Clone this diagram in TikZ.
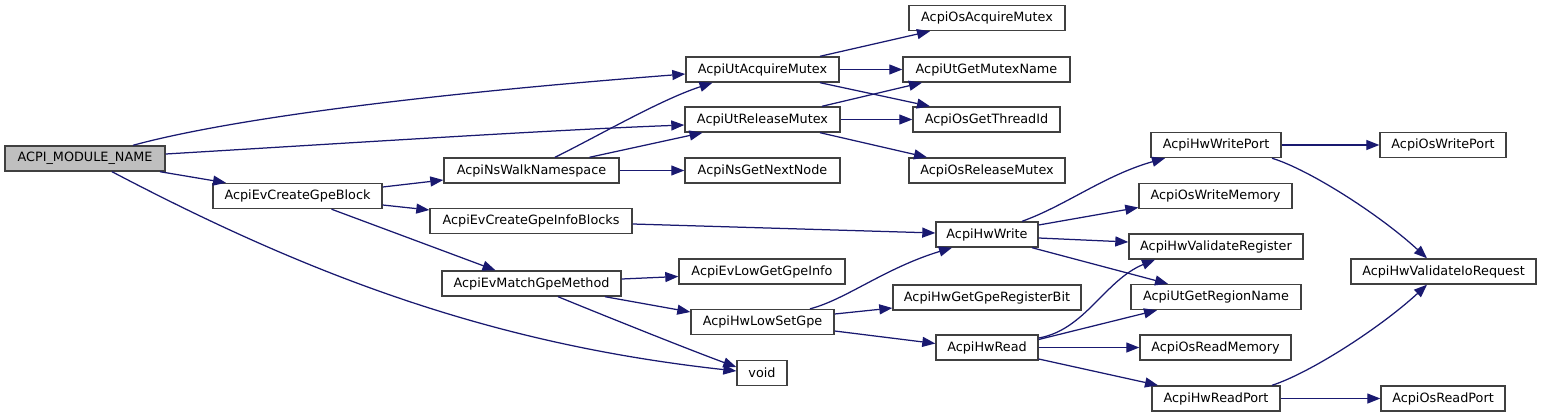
\documentclass[tikz,border=0pt]{standalone}
\usepackage{fontspec}
\setmainfont{DejaVu Sans}
\usetikzlibrary{arrows.meta,calc}
\definecolor{edgec}{HTML}{191970}
\definecolor{rootfill}{HTML}{BFBFBF}
\definecolor{boxline}{HTML}{404040}
\begin{document}
\begin{tikzpicture}[x=1pt,y=-1pt,
  box/.style={draw=boxline,line width=1.4pt,fill=white,rectangle,inner sep=0pt,
    minimum height=25pt,align=center,font=\fontsize{12.8}{14}\selectfont},
  rootbox/.style={box,fill=rootfill},
  arr/.style={draw=edgec,line width=1.25pt,-{Triangle[length=13pt,width=10pt]},color=edgec}]
\useasboundingbox (0,0) rectangle (1541,417);
% nodes
\node[rootbox,minimum width=160pt] (m) at (85,158.5) {ACPI\_MODULE\_NAME};
\node[box,minimum width=169pt] (cb) at (297.5,196) {AcpiEvCreateGpeBlock};
\node[box,minimum width=175pt] (nw) at (531.5,170.5) {AcpiNsWalkNamespace};
\node[box,minimum width=202pt] (ib) at (531,221) {AcpiEvCreateGpeInfoBlocks};
\node[box,minimum width=179pt] (mg) at (531.5,283.5) {AcpiEvMatchGpeMethod};
\node[box,minimum width=153pt] (ua) at (762.5,69.5) {AcpiUtAcquireMutex};
\node[box,minimum width=155pt] (ur) at (762.5,119.5) {AcpiUtReleaseMutex};
\node[box,minimum width=155pt] (gn) at (762.5,170.5) {AcpiNsGetNextNode};
\node[box,minimum width=166pt] (lg) at (762,271.5) {AcpiEvLowGetGpeInfo};
\node[box,minimum width=143pt] (ls) at (762.5,322) {AcpiHwLowSetGpe};
\node[box,minimum width=50pt] (vd) at (762,373) {void};
\node[box,minimum width=156pt] (oa) at (987,18) {AcpiOsAcquireMutex};
\node[box,minimum width=167pt] (gm) at (986.5,69.5) {AcpiUtGetMutexName};
\node[box,minimum width=147pt] (gt) at (986.5,119.5) {AcpiOsGetThreadId};
\node[box,minimum width=156pt] (orl) at (987,170.5) {AcpiOsReleaseMutex};
\node[box,minimum width=102pt] (hw) at (987,234.5) {AcpiHwWrite};
\node[box,minimum width=188pt] (rb) at (987,297.5) {AcpiHwGetGpeRegisterBit};
\node[box,minimum width=102pt] (hr) at (987,347.5) {AcpiHwRead};
\node[box,minimum width=130pt] (hwp) at (1216,145) {AcpiHwWritePort};
\node[box,minimum width=153pt] (owm) at (1215.5,196) {AcpiOsWriteMemory};
\node[box,minimum width=174pt] (vr) at (1216,246.5) {AcpiHwValidateRegister};
\node[box,minimum width=170pt] (rn) at (1216,297) {AcpiUtGetRegionName};
\node[box,minimum width=151pt] (ordm) at (1215.5,347.5) {AcpiOsReadMemory};
\node[box,minimum width=128pt] (hrp) at (1216,398.5) {AcpiHwReadPort};
\node[box,minimum width=126pt] (owp) at (1443,145) {AcpiOsWritePort};
\node[box,minimum width=185pt] (vio) at (1443.5,271.5) {AcpiHwValidateIoRequest};
\node[box,minimum width=124pt] (orp) at (1443,398.5) {AcpiOsReadPort};
% edges
\draw[arr] ($(m.north)+(48,0)$) .. controls (200,127) and (350,100) .. ($(ua.west)+(0,4.5)$);
\draw[arr] ($(m.east)+(0,-4.5)$) .. controls (350,143) and (550,130) .. ($(ur.west)+(0,5.5)$);
\draw[arr] ($(m.south)+(75,0)$) -- ($(cb.north)+(-71.5,0)$);
\draw[arr] ($(m.south)+(27,0)$) .. controls (320,281) and (500,345) .. ($(vd.west)+(0,-2)$);
\draw[arr] ($(cb.east)+(0,-9)$) -- ($(nw.west)+(0,9.5)$);
\draw[arr] ($(cb.east)+(0,9)$) -- ($(ib.west)+(0,-11)$);
\draw[arr] ($(cb.south)+(34,0)$) -- ($(mg.north)+(-36,0)$);
\draw[arr] ($(nw.north)+(23.5,0)$) .. controls (600,135) and (660,100) .. ($(ua.south)+(-50,0)$);
\draw[arr] ($(nw.north)+(58,0)$) -- ($(ur.south)+(-60,0)$);
\draw[arr] (nw.east) -- (gn.west);
\draw[arr] ($(ua.north)+(57.5,0)$) -- ($(oa.south)+(-57,0)$);
\draw[arr] (ua.east) -- (gm.west);
\draw[arr] ($(ua.south)+(57.5,0)$) -- ($(gt.north)+(-56.5,0)$);
\draw[arr] ($(ur.north)+(59.5,0)$) -- ($(gm.south)+(-64.5,0)$);
\draw[arr] (ur.east) -- (gt.west);
\draw[arr] ($(ur.south)+(57.5,0)$) -- ($(orl.north)+(-60,0)$);
\draw[arr] ($(ib.east)+(0,3)$) -- ($(hw.west)+(0,-1.5)$);
\draw[arr] ($(mg.east)+(0,-4.5)$) -- ($(lg.west)+(0,5)$);
\draw[arr] ($(mg.south)+(73.5,0)$) -- ($(ls.west)+(0,-10)$);
\draw[arr] ($(mg.south)+(26.5,0)$) .. controls (610,318) and (690,350) .. ($(vd.west)+(0,-6)$);
\draw[arr] ($(ls.north)+(47.5,0)$) .. controls (845,300) and (885,268) .. ($(hw.south)+(-35,0)$);
\draw[arr] ($(ls.east)+(0,-8)$) -- ($(rb.west)+(0,10.5)$);
\draw[arr] ($(ls.east)+(0,9)$) -- ($(hr.west)+(0,-4)$);
\draw[arr] ($(hw.north)+(35,0)$) .. controls (1065,206) and (1105,175) .. ($(hwp.south)+(-51,0)$);
\draw[arr] ($(hw.east)+(0,-9.5)$) -- ($(owm.west)+(0,11.5)$);
\draw[arr] ($(hw.east)+(0,3.5)$) -- ($(vr.west)+(0,-4.5)$);
\draw[arr] ($(hw.south)+(45,0)$) -- ($(rn.north)+(-48,0)$);
\draw[arr] ($(hr.east)+(0,-9.5)$) .. controls (1085,330) and (1105,280) .. ($(vr.south)+(-61,0)$);
\draw[arr] ($(hr.east)+(0,-8)$) -- ($(rn.south)+(-59,0)$);
\draw[arr] (hr.east) -- (ordm.west);
\draw[arr] ($(hr.east)+(0,11.5)$) -- ($(hrp.north)+(-58,0)$);
\draw[arr] (hwp.east) -- (owp.west);
\draw[arr] ($(hwp.south)+(56,0)$) .. controls (1310,170) and (1380,215) .. ($(vio.north)+(-16.5,0)$);
\draw[arr] ($(hrp.north)+(56,0)$) .. controls (1310,373) and (1380,328) .. ($(vio.south)+(-16.5,0)$);
\draw[arr] (hrp.east) -- (orp.west);
\end{tikzpicture}
\end{document}
